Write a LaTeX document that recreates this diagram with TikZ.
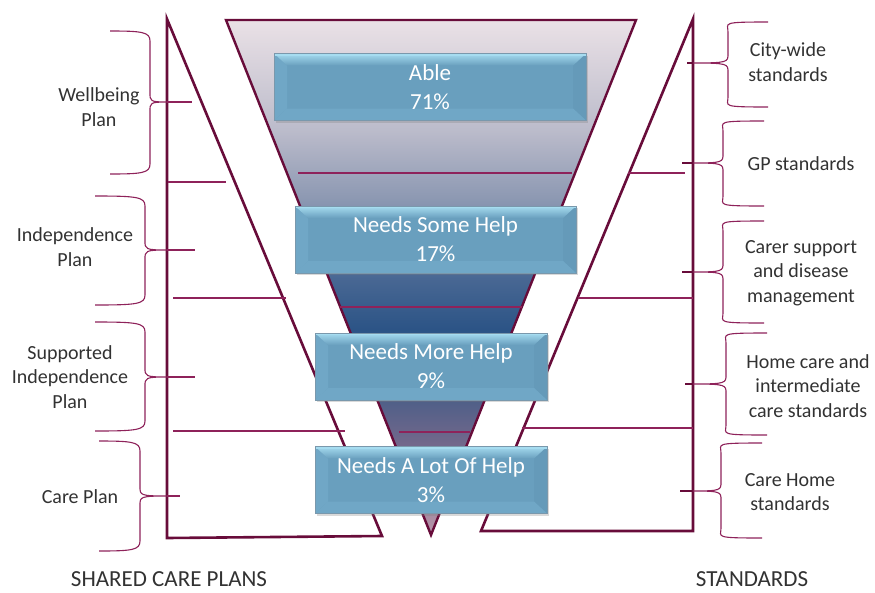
\documentclass[tikz,border=0pt]{standalone}
\usepackage{fontspec}
\setmainfont{Carlito}
\usetikzlibrary{shadows}

\definecolor{framered}{RGB}{104,12,58}
\definecolor{rulered}{RGB}{142,34,90}
\definecolor{labelgrey}{RGB}{50,50,50}
\definecolor{boxblue}{RGB}{105,159,190}
\definecolor{boxhigh}{RGB}{166,220,240}
\definecolor{boxside}{RGB}{112,167,198}
\definecolor{boxdark}{RGB}{101,154,185}
\definecolor{boxedge}{RGB}{122,152,172}

\definecolor{fun0}{RGB}{234,225,230}
\definecolor{fun1}{RGB}{188,188,203}
\definecolor{fun2}{RGB}{140,152,178}
\definecolor{fun3}{RGB}{72,103,147}
\definecolor{fun4}{RGB}{44,84,134}
\definecolor{fun5}{RGB}{78,95,136}
\definecolor{fun6}{RGB}{118,105,140}
\definecolor{fun7}{RGB}{184,150,170}

\pgfdeclareverticalshading{funnelshade}{100bp}{%
  color(0bp)=(fun7); color(25bp)=(fun7); color(33.4bp)=(fun6);
  color(38.2bp)=(fun5); color(45bp)=(fun4); color(49.9bp)=(fun3);
  color(57.6bp)=(fun2); color(64.4bp)=(fun1); color(75bp)=(fun0);
  color(100bp)=(fun0)}

\tikzset{
  frameline/.style={draw=framered, line width=2.6pt},
  funnel/.style={shading=funnelshade, draw=framered, line width=2.4pt},
  divider/.style={draw=rulered, line width=1.2pt},
  curlline/.style={draw=rulered, line width=1.1pt},
  lefttick/.style={draw=rulered, line width=1.3pt},
  righttick/.style={draw=framered, line width=1.8pt},
  planlabel/.style={text=labelgrey, align=center, inner sep=0pt,
    font=\fontsize{20}{24.5}\selectfont},
  headlabel/.style={text=labelgrey, inner sep=0pt,
    font=\fontsize{23}{28}\selectfont},
  bevel/.style={path picture={
    \path (path picture bounding box.north west) coordinate (bnw)
          (path picture bounding box.north east) coordinate (bne)
          (path picture bounding box.south east) coordinate (bse)
          (path picture bounding box.south west) coordinate (bsw);
    \fill[boxside] (bnw) -- ([shift={(13pt,-12pt)}]bnw)
      -- ([shift={(13pt,12pt)}]bsw) -- (bsw) -- cycle;
    \fill[boxdark] (bne) -- ([shift={(-13pt,-12pt)}]bne)
      -- ([shift={(-13pt,12pt)}]bse) -- (bse) -- cycle;
    \fill[boxside] (bsw) -- ([shift={(13pt,12pt)}]bsw)
      -- ([shift={(-13pt,12pt)}]bse) -- (bse) -- cycle;
    \shade[top color=boxhigh, bottom color=boxblue] (bnw) -- (bne)
      -- ([shift={(-13pt,-12pt)}]bne) -- ([shift={(13pt,-12pt)}]bnw) -- cycle;
    \draw[boxhigh, line width=2pt] ([yshift=-1pt]bnw) -- ([yshift=-1pt]bne);
  }},
  levelbox/.style={draw=boxedge, line width=0.6pt, fill=boxblue, bevel,
    drop shadow={shadow xshift=1.5pt, shadow yshift=-2pt, opacity=0.3},
    text=white, align=center, inner sep=0pt,
    minimum width=#1, minimum height=67pt,
    font=\fontsize{23}{29}\selectfont}
}

% end x, spine x, tip x, top y, tip y, bottom y, name of tip
\newcommand{\bracecurl}[7]{%
  \draw[curlline] (#1,#4) .. controls (#2-8,#4) and (#2,#4+1) .. (#2,#4+10)
    -- (#2,#5-9) .. controls (#2,#5-1) and (#2,#5) .. (#3,#5) coordinate (#7)
    .. controls (#2,#5) and (#2,#5+1) .. (#2,#5+9)
    -- (#2,#6-10) .. controls (#2,#6-1) and (#2-8,#6) .. (#1,#6);}

\begin{document}
\begin{tikzpicture}[x=1pt, y=-1pt]
  \useasboundingbox (0,0) rectangle (875,592);

  \draw[frameline] (167,19) -- (167,538) -- (382,536) -- cycle;
  \draw[frameline] (693,19) -- (693,531) -- (481,531) -- cycle;
  \shadedraw[funnel] (226,20) -- (636,20) -- (431,535) -- cycle;

  \draw[divider] (168,182) -- (226,182);
  \draw[divider] (173,298) -- (286,298);
  \draw[divider] (173,431) -- (345,431);
  \draw[divider] (298,173) -- (572,173);
  \draw[divider] (340,307) -- (522,307);
  \draw[divider] (399,432) -- (470,432);
  \draw[divider] (628,173) -- (685,173);
  \draw[divider] (578,298) -- (693,298);
  \draw[divider] (522,428) -- (693,428);

  \node[levelbox=312pt] (able) at (430,87) {Able\\71\%};
  \node[levelbox=281pt] (somehelp) at (435.5,239.5) {Needs Some Help\\17\%};
  \node[levelbox=232pt] (morehelp) at (431,366.5) {Needs More Help\\9\%};
  \node[levelbox=232pt] (lothelp) at (431,480) {Needs A Lot Of Help\\3\%};

  \bracecurl{110}{150}{167}{31}{102}{174}{wellbeingtip}
  \bracecurl{95}{145}{167}{196}{250}{305}{independtip}
  \bracecurl{95}{145}{167}{322}{377}{431}{supportedtip}
  \bracecurl{99}{140}{167}{441}{496}{551}{careplantip}
  \draw[lefttick] (wellbeingtip) -- ++(25,0);
  \draw[lefttick] (independtip) -- ++(28,0);
  \draw[lefttick] (supportedtip) -- ++(28,0);
  \draw[lefttick] (careplantip) -- ++(13,0);

  \bracecurl{768}{728}{693}{22}{63}{107}{citytip}
  \bracecurl{764}{723}{693}{121}{163}{206}{gptip}
  \bracecurl{764}{723}{693}{221}{272}{323}{carertip}
  \bracecurl{767}{726}{693}{333}{384}{435}{hometip}
  \bracecurl{762}{721}{693}{443}{491}{538}{carehometip}
  \draw[righttick] (citytip) -- ++(-6,0);
  \draw[righttick] (gptip) -- ++(-11,0);
  \draw[righttick] (carertip) -- ++(-11,0);
  \draw[righttick] (hometip) -- ++(-8,0);
  \draw[righttick] (carehometip) -- ++(-13,0);

  \node[planlabel] (wellbeing) at (99,107) {Wellbeing\\Plan};
  \node[planlabel] (independence) at (75,247) {Independence\\Plan};
  \node[planlabel] (supported) at (70,377) {Supported\\Independence\\Plan};
  \node[planlabel] (careplan) at (80,497) {Care Plan};

  \node[planlabel] (citywide) at (788,62) {City-wide\\standards};
  \node[planlabel] (gp) at (801,164) {GP standards};
  \node[planlabel] (carer) at (801,273) {Carer support\\and disease\\management};
  \node[planlabel] (homecare) at (808,386) {Home care and\\intermediate\\care standards};
  \node[planlabel] (carehome) at (790,492) {Care Home\\standards};

  \node[headlabel] (plans) at (169,579) {SHARED CARE PLANS};
  \node[headlabel] (standards) at (752,579) {STANDARDS};
\end{tikzpicture}
\end{document}
